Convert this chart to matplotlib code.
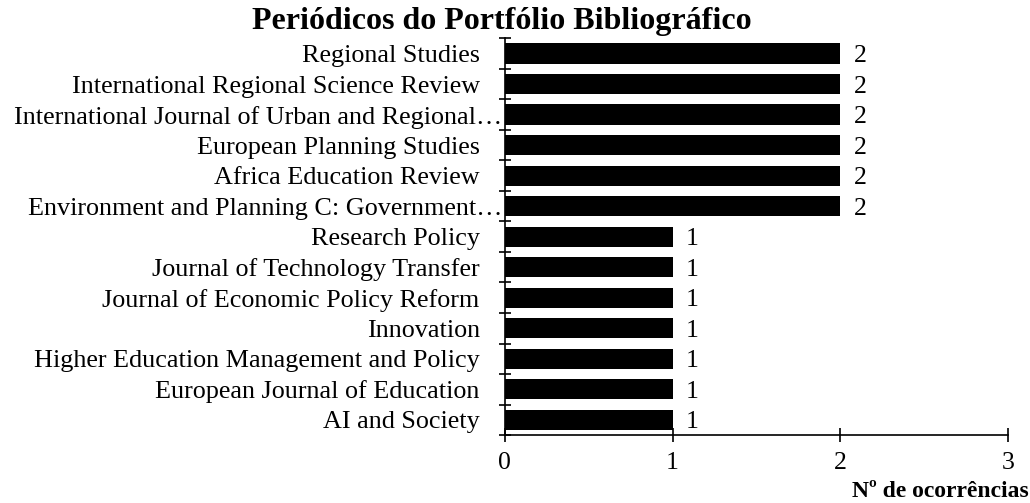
import matplotlib.pyplot as plt
import matplotlib.transforms as mtransforms
import numpy as np

plt.rcParams['font.family'] = ['Liberation Serif', 'DejaVu Serif']

# journals listed from bottom to top
journals = [
    "AI and Society",
    "European Journal of Education",
    "Higher Education Management and Policy",
    "Innovation",
    "Journal of Economic Policy Reform",
    "Journal of Technology Transfer",
    "Research Policy",
    "Environment and Planning C: Government…",
    "Africa Education Review",
    "European Planning Studies",
    "International Journal of Urban and Regional…",
    "International Regional Science Review",
    "Regional Studies",
]
counts = [1, 1, 1, 1, 1, 1, 1, 2, 2, 2, 2, 2, 2]

fig = plt.figure(figsize=(10.30, 5.03), dpi=100)
ax = fig.add_axes([0.490, 0.135, 0.489, 0.789])

y = np.arange(len(journals))
ax.barh(y, counts, height=0.66, color='black')
for yi, c in zip(y, counts):
    ax.text(c + 0.08, yi, str(c), va='center_baseline', ha='left', fontsize=18.5)

ax.set_xlim(0, 3)
ax.set_ylim(-0.5, len(journals) - 0.5)
ax.set_xticks([0, 1, 2, 3])
ax.set_yticks(y)
ax.set_yticklabels(journals, fontsize=18.8)
ax.set_yticks(np.arange(-0.5, len(journals), 1), minor=True)
ax.tick_params(axis='y', which='major', length=0, pad=18)
ax.tick_params(axis='y', which='minor', length=8, direction='inout', width=1.2)
ax.tick_params(axis='x', length=10, direction='inout', width=1.2, labelsize=18.5, pad=7)

# truncated names run a bit closer to the axis, as in the original
shift = mtransforms.ScaledTranslation(16 / 72, 0, fig.dpi_scale_trans)
for lab in ax.get_yticklabels():
    if lab.get_text().endswith("…"):
        lab.set_transform(lab.get_transform() + shift)

for s in ['top', 'right']:
    ax.spines[s].set_visible(False)
for s in ['left', 'bottom']:
    ax.spines[s].set_linewidth(1.2)

fig.text(0.487, 0.958, "Periódicos do Portfólio Bibliográfico", ha='center', va='center',
         fontsize=23, fontweight='bold')
fig.text(0.999, 0.002, "Nº de ocorrências", ha='right', va='bottom',
         fontsize=17, fontweight='bold')

fig.savefig("out.png", dpi=100)
